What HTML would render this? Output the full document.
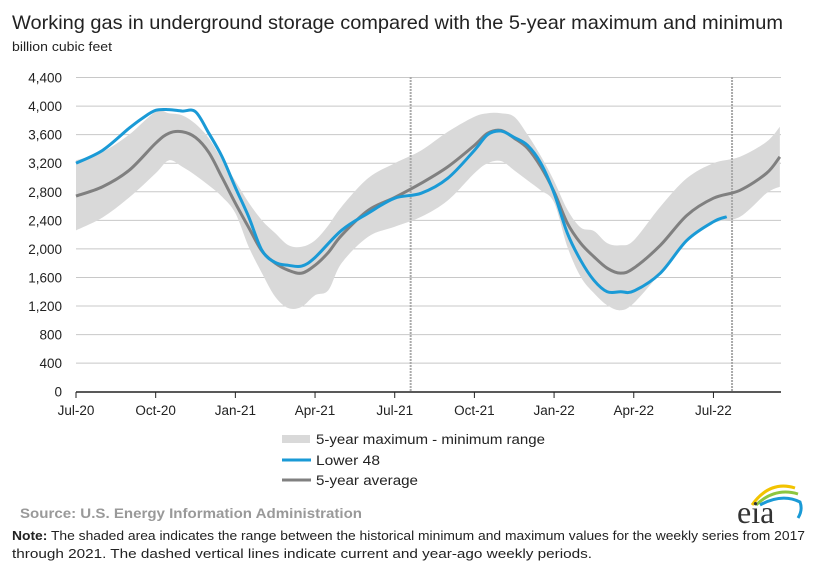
<!DOCTYPE html>
<html><head><meta charset="utf-8"><style>
html,body{margin:0;padding:0;background:#fff;}
svg{display:block;font-family:"Liberation Sans",Arial,sans-serif;}
</style></head><body>
<svg id="chart" width="830" height="577" viewBox="0 0 830 577">
<text x="12" y="29" font-size="19.5" fill="#222" textLength="771" lengthAdjust="spacingAndGlyphs">Working gas in underground  storage compared with the 5-year maximum and minimum</text>
<text x="12" y="51" font-size="13" fill="#222" textLength="100" lengthAdjust="spacingAndGlyphs">billion cubic feet</text>
<g id="grid"></g><g id="band"></g><g id="lines"></g><g id="axes"></g>
<g>
<rect x="282" y="435" width="28" height="8" fill="#d9d9d9"/>
<text x="316" y="444" font-size="13.5" fill="#222" textLength="229" lengthAdjust="spacingAndGlyphs">5-year maximum - minimum range</text>
<line x1="282" x2="311" y1="460" y2="460" stroke="#1a9ad6" stroke-width="3"/>
<text x="316" y="465" font-size="13.5" fill="#222" textLength="64" lengthAdjust="spacingAndGlyphs">Lower 48</text>
<line x1="282" x2="311" y1="480" y2="480" stroke="#808080" stroke-width="3"/>
<text x="316" y="485" font-size="13.5" fill="#222" textLength="102" lengthAdjust="spacingAndGlyphs">5-year average</text>
</g>
<text x="20" y="518" font-size="13.5" font-weight="bold" fill="#999" textLength="342" lengthAdjust="spacingAndGlyphs">Source:  U.S. Energy Information Administration</text>
<g>
<path d="M752 505 Q770 480 795 488" stroke="#f2c300" stroke-width="3" fill="none"/>
<path d="M756 505 Q775 487 798 494" stroke="#8cc63f" stroke-width="3" fill="none"/>
<path d="M760 505 Q782 493 800 502 Q803 510 798 518" stroke="#1a9ad6" stroke-width="3" fill="none"/>
<text x="737" y="523" font-size="32" font-family="'Liberation Serif',serif" fill="#333">eia</text>
</g>
<text x="12" y="540" font-size="12.5" fill="#222" textLength="793" lengthAdjust="spacingAndGlyphs"><tspan font-weight="bold">Note:</tspan> The shaded area indicates the range between the historical minimum and maximum values for the weekly series from 2017</text>
<text x="12" y="558" font-size="12.5" fill="#222" textLength="580" lengthAdjust="spacingAndGlyphs">through 2021. The dashed vertical lines indicate current and year-ago weekly periods.</text>
</svg>
<script>
const yTicks=[0,400,800,1200,1600,2000,2400,2800,3200,3600,4000,4400];
const xLabels=["Jul-20","Oct-20","Jan-21","Apr-21","Jul-21","Oct-21","Jan-22","Apr-22","Jul-22"];
const xLabelMonths=[0,3,6,9,12,15,18,21,24];
const bandMonths=[0,1,2,3,3.5,4,4.5,5,5.5,6,6.5,7,7.5,8,8.5,9,9.5,10,11,12,13,14,15,15.5,16,16.5,17,17.5,18,18.5,19,19.5,20,20.5,21,22,23,24,25,26,26.5];
const maxVals=[3240,3360,3600,3920,3900,3870,3750,3550,3250,2950,2650,2400,2220,2050,2030,2120,2330,2590,2990,3200,3380,3640,3850,3900,3900,3850,3600,3300,2950,2550,2300,2250,2080,2050,2120,2590,2990,3200,3290,3500,3710];
const minVals=[2260,2440,2720,3060,3240,3150,3030,2890,2730,2500,2030,1660,1330,1170,1190,1350,1420,1800,2170,2310,2450,2680,3060,3200,3230,3100,2960,2820,2650,2030,1610,1380,1210,1140,1240,1660,2100,2360,2450,2780,2870];
const avgVals=[2740,2870,3100,3480,3620,3640,3560,3350,3000,2640,2300,1970,1800,1700,1660,1770,1950,2190,2540,2720,2920,3150,3450,3620,3660,3550,3410,3150,2800,2360,2080,1890,1730,1660,1730,2050,2470,2710,2820,3060,3290];
const lowerMonths=[0,1,2,2.5,3,3.5,4,4.5,5,5.5,6,6.5,7,7.5,8,8.5,9,10,11,12,13,14,15,15.5,16,16.5,17,17.5,18,18.5,19,19.5,20,20.5,21,22,23,24,24.5];
const lowerVals=[3200,3380,3690,3830,3940,3950,3930,3920,3620,3290,2860,2450,1980,1810,1770,1760,1880,2260,2500,2710,2780,2990,3380,3600,3650,3560,3450,3200,2780,2220,1840,1560,1400,1400,1410,1660,2120,2380,2450];
const dashedMonths=[12.6,24.7];
const NS="http://www.w3.org/2000/svg";
const X=m=>76+m*26.56;
const Y=v=>391.7-v*(314.2/4400);
function mk(tag,attrs,parent){const e=document.createElementNS(NS,tag);for(const k in attrs)e.setAttribute(k,attrs[k]);parent.appendChild(e);return e;}
function smooth(pts,start){let d=start?'M'+pts[0][0]+','+pts[0][1]:'L'+pts[0][0]+','+pts[0][1];
 for(let i=0;i<pts.length-1;i++){const p0=pts[i-1]||pts[i],p1=pts[i],p2=pts[i+1],p3=pts[i+2]||p2;
  const c1=[p1[0]+(p2[0]-p0[0])/6,p1[1]+(p2[1]-p0[1])/6],c2=[p2[0]-(p3[0]-p1[0])/6,p2[1]-(p3[1]-p1[1])/6];
  d+='C'+c1[0]+','+c1[1]+' '+c2[0]+','+c2[1]+' '+p2[0]+','+p2[1];}
 return d;}
const grid=document.getElementById('grid'),band=document.getElementById('band'),lines=document.getElementById('lines'),axes=document.getElementById('axes');
yTicks.forEach(t=>{
 if(t>0){const g=mk('line',{x1:76,x2:781,y1:Y(t),y2:Y(t),stroke:'#c8c8c8','stroke-width':1},grid);
 
 }
 const tx=mk('text',{x:62,y:Y(t)+5,'font-size':13.5,'text-anchor':'end',fill:'#222'},axes);
 tx.textContent=t.toLocaleString('en-US');
 
 
});
const topPts=bandMonths.map((m,i)=>[X(m),Y(maxVals[i])]);
const botPts=bandMonths.map((m,i)=>[X(m),Y(minVals[i])]).reverse();
const b=mk('path',{d:smooth(topPts,true)+smooth(botPts,false)+'Z',fill:'#d9d9d9'},band);


dashedMonths.forEach(m=>{const l=mk('line',{x1:X(m),x2:X(m),y1:77,y2:391,stroke:'#aaa','stroke-width':2,'stroke-dasharray':'2,1'},lines);
 
 });
const a=mk('path',{d:smooth(bandMonths.map((m,i)=>[X(m),Y(avgVals[i])]),true),fill:'none',stroke:'#808080','stroke-width':3,'stroke-linejoin':'round'},lines);


const lw=mk('path',{d:smooth(lowerMonths.map((m,i)=>[X(m),Y(lowerVals[i])]),true),fill:'none',stroke:'#1a9ad6','stroke-width':3,'stroke-linejoin':'round'},lines);


const ax=mk('line',{x1:76,x2:781,y1:392,y2:392,stroke:'#222','stroke-width':1.5},axes);


xLabels.forEach((lab,i)=>{const x=X(xLabelMonths[i]);
 const tk=mk('line',{x1:x,x2:x,y1:392,y2:398,stroke:'#222'},axes);
 
 
 const t=mk('text',{x:x,y:415,'font-size':13.5,'text-anchor':'middle',fill:'#222'},axes);
 t.textContent=lab;
 
 });
</script>
</body></html>
